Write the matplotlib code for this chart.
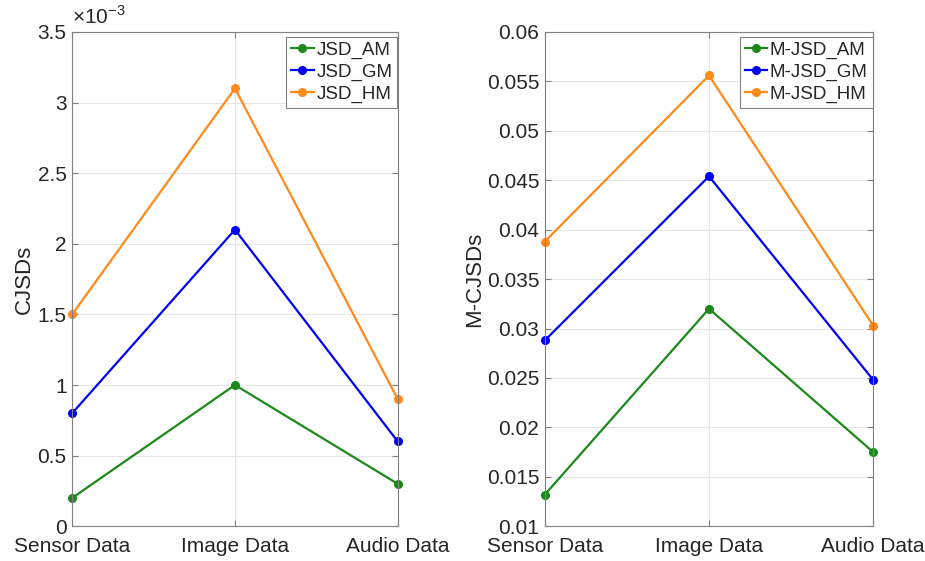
import numpy as np
import matplotlib.pyplot as plt
from matplotlib.ticker import FuncFormatter

plt.rcParams['font.family'] = ['Liberation Sans', 'DejaVu Sans']
plt.rcParams['mathtext.fontset'] = 'custom'
plt.rcParams['mathtext.rm'] = 'Liberation Sans'

categories = ['Sensor Data', 'Image Data', 'Audio Data']

# left panel (values in absolute units)
jsd_am = [0.2e-3, 1.0e-3, 0.3e-3]
jsd_gm = [0.8e-3, 2.1e-3, 0.6e-3]
jsd_hm = [1.5e-3, 3.1e-3, 0.9e-3]

# right panel
mjsd_am = [0.0132, 0.0320, 0.0175]
mjsd_gm = [0.0288, 0.0454, 0.0248]
mjsd_hm = [0.0388, 0.0556, 0.0303]

c_green = '#1b8a1b'
c_blue = '#0000ff'
c_orange = '#ff8a1a'
txt = '#262626'

fig = plt.figure(figsize=(9.25, 5.61), dpi=100)
ax1 = fig.add_axes([0.078, 0.062, 0.352, 0.881])
ax2 = fig.add_axes([0.589, 0.062, 0.355, 0.881])

x = np.arange(len(categories))

def style(ax):
    ax.set_xlim(0, 2)
    ax.set_xticks(x)
    ax.set_xticklabels(categories)
    ax.grid(True, color='#e6e6e6', linewidth=0.8)
    ax.set_axisbelow(True)
    ax.tick_params(direction='in', length=4, colors=txt, labelsize=15,
                   top=True, right=True, labeltop=False, labelright=False)
    ax.tick_params(axis='x', pad=8, color='#808080')
    ax.tick_params(axis='y', pad=4, color='#808080')
    for s in ax.spines.values():
        s.set_color('#808080')
        s.set_linewidth(0.8)

lw, ms = 1.6, 5.5
ax1.plot(x, jsd_am, '-o', color=c_green, lw=lw, ms=ms, label='JSD_AM', clip_on=False)
ax1.plot(x, jsd_gm, '-o', color=c_blue, lw=lw, ms=ms, label='JSD_GM', clip_on=False)
ax1.plot(x, jsd_hm, '-o', color=c_orange, lw=lw, ms=ms, label='JSD_HM', clip_on=False)
style(ax1)
ax1.set_ylim(0, 3.5e-3)
ax1.set_yticks(np.arange(0, 3.51e-3, 0.5e-3))
ax1.yaxis.set_major_formatter(FuncFormatter(lambda v, p: f'{v*1e3:g}'))
ax1.text(0.0, 1.008, r'$\times10^{-3}$', transform=ax1.transAxes, fontsize=15,
         color=txt, va='bottom', ha='left')
ax1.set_ylabel('CJSDs', fontsize=16, color=txt, labelpad=2)

ax2.plot(x, mjsd_am, '-o', color=c_green, lw=lw, ms=ms, label='M-JSD_AM', clip_on=False)
ax2.plot(x, mjsd_gm, '-o', color=c_blue, lw=lw, ms=ms, label='M-JSD_GM', clip_on=False)
ax2.plot(x, mjsd_hm, '-o', color=c_orange, lw=lw, ms=ms, label='M-JSD_HM', clip_on=False)
style(ax2)
ax2.set_ylim(0.01, 0.06)
ax2.set_yticks(np.arange(0.01, 0.0601, 0.005))
ax2.yaxis.set_major_formatter(FuncFormatter(lambda v, p: f'{v:g}'))
ax2.set_ylabel('M-CJSDs', fontsize=16, color=txt, labelpad=1)

for ax in (ax1, ax2):
    leg = ax.legend(loc='upper right', bbox_to_anchor=(0.998, 0.99), fontsize=13.5,
                    handlelength=1.2, handletextpad=0.15, borderpad=0.25,
                    labelspacing=0.25, fancybox=False, framealpha=1,
                    borderaxespad=0)
    leg.get_frame().set_edgecolor('#808080')
    leg.get_frame().set_linewidth(0.8)
    for t in leg.get_texts():
        t.set_color(txt)

fig.savefig('out.png', dpi=100)
